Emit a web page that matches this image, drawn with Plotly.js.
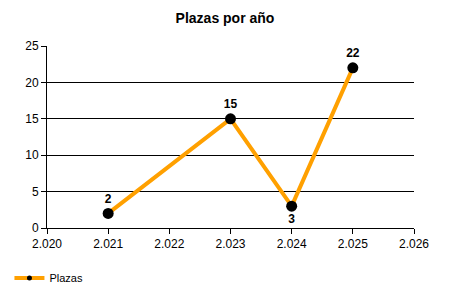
<!DOCTYPE html>
<html><head><meta charset="utf-8">
<script src="https://cdn.plot.ly/plotly-3.0.1.min.js"></script>
<style>html,body{margin:0;padding:0;background:#fff}#chart{width:450px;height:300px}</style>
</head><body><div id="chart"></div>
<script>
var years = [2021, 2023, 2024, 2025];
var plazas = [2, 15, 3, 22];
var seriesName = "Plazas";
var chartTitle = "Plazas por año";

var textPos = plazas.map(function(v, i){ return (i > 0 && i < plazas.length - 1 && v < plazas[i-1] && v < plazas[i+1]) ? "bottom center" : "top center"; });
var lineColor = "#FFA000";

var trace = {
  x: years, y: plazas, name: seriesName, type: "scatter", mode: "lines+markers+text",
  text: plazas.map(String), textposition: textPos,
  textfont: {family: "Liberation Sans, Arial, sans-serif", size: 12, color: "#000", weight: "bold"},
  line: {color: lineColor, width: 4},
  marker: {color: "#000", size: 11},
  cliponaxis: false, showlegend: false
};
var legendTrace = {
  x: [null], y: [null], name: seriesName, type: "scatter", mode: "lines+markers",
  line: {color: lineColor, width: 4}, marker: {color: "#000", size: 5}, showlegend: true
};
var layout = {
  width: 450, height: 300,
  margin: {l: 47, r: 36, t: 46, b: 72},
  paper_bgcolor: "#fff", plot_bgcolor: "#fff",
  separators: ",.",
  font: {family: "Liberation Sans, Arial, sans-serif", size: 12, color: "#000"},
  title: {text: "<b>" + chartTitle + "</b>", x: 0.5, xanchor: "center", y: 0.94, yanchor: "middle", font: {size: 14, color: "#000"}},
  xaxis: {range: [2020, 2026], dtick: 1, tick0: 2020, tickformat: ",.0f", showgrid: false, zeroline: false,
    showline: true, linecolor: "#000", linewidth: 1, ticks: "outside", ticklen: 5, tickcolor: "#000", fixedrange: true},
  yaxis: {range: [0, 25], dtick: 5, showgrid: true, gridcolor: "#000", gridwidth: 1, zeroline: false,
    showline: true, linecolor: "#000", linewidth: 1, ticks: "outside", ticklen: 5, tickcolor: "#000", fixedrange: true},
  showlegend: true,
  legend: {orientation: "h", xref: "container", yref: "container", x: 0.021, xanchor: "left", y: 0.073, yanchor: "middle",
    font: {size: 11}, bgcolor: "rgba(0,0,0,0)"}
};
Plotly.newPlot("chart", [trace, legendTrace], layout, {displayModeBar: false, staticPlot: true});
</script></body></html>
